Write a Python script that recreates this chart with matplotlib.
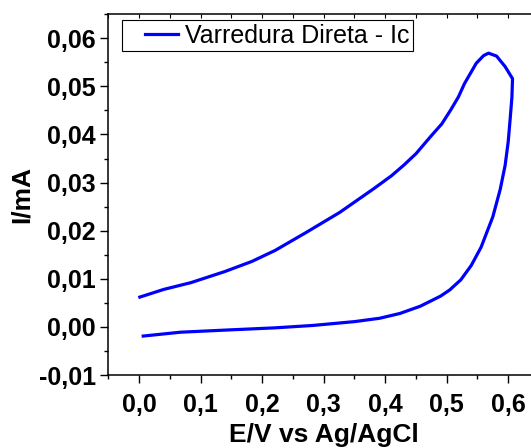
import matplotlib
matplotlib.use("Agg")
import matplotlib.pyplot as plt
from matplotlib.ticker import MultipleLocator, FuncFormatter
from matplotlib.legend_handler import HandlerLine2D

# voltammogram (E in V, I in mA), one continuous sweep
E = [0.001, 0.040, 0.084, 0.139, 0.183, 0.221, 0.271, 0.326, 0.381, 0.410,
     0.430, 0.450, 0.474, 0.492, 0.507, 0.519, 0.529, 0.548, 0.560, 0.568,
     0.581, 0.595, 0.607, 0.606, 0.603, 0.600, 0.595, 0.587, 0.575, 0.556,
     0.540, 0.523, 0.505, 0.490, 0.457, 0.424, 0.391, 0.350, 0.282, 0.220,
     0.150, 0.067, 0.0065]
I = [0.0062, 0.0078, 0.0092, 0.0115, 0.0136, 0.0159, 0.0196, 0.0238, 0.0287,
     0.0314, 0.0336, 0.0360, 0.0396, 0.0422, 0.0452, 0.0478, 0.0506, 0.0548,
     0.0564, 0.0569, 0.0563, 0.0541, 0.0516, 0.0477, 0.0430, 0.0385, 0.0336,
     0.0286, 0.0229, 0.0166, 0.0128, 0.0098, 0.0077, 0.0064, 0.0043, 0.0028,
     0.0018, 0.0011, 0.0003, -0.0002, -0.0006, -0.0011, -0.0019]

legend_label = "Varredura Direta - Ic"

plt.rcParams["font.family"] = ["Liberation Sans", "DejaVu Sans"]

fig = plt.figure(figsize=(5.31, 4.48), dpi=100)
ax = fig.add_axes([0.2043, 0.1629, 0.8107, 0.8054])

ax.plot(E, I, color="#0000ff", lw=2.3, solid_joinstyle="round", label=legend_label)

ax.set_xlim(-0.05, 0.65)
ax.set_ylim(-0.01, 0.065)

ax.xaxis.set_major_locator(MultipleLocator(0.1))
ax.xaxis.set_minor_locator(MultipleLocator(0.05))
ax.yaxis.set_major_locator(MultipleLocator(0.01))
ax.yaxis.set_minor_locator(MultipleLocator(0.005))
ax.xaxis.set_major_formatter(FuncFormatter(lambda v, p: f"{v:.1f}".replace(".", ",").replace("-0,0", "0,0")))
ax.yaxis.set_major_formatter(FuncFormatter(lambda v, p: f"{v:.2f}".replace(".", ",").replace("-0,00", "0,00")))

ax.tick_params(which="major", direction="out", length=6, width=1, labelsize=18, pad=3)
ax.tick_params(which="minor", direction="out", length=3, width=1)
ax.tick_params(axis="x", which="major", pad=7)
for lab in ax.get_xticklabels() + ax.get_yticklabels():
    lab.set_fontweight("bold")
# ticks on the top frame point inwards
sec = ax.secondary_xaxis("top")
sec.xaxis.set_major_locator(MultipleLocator(0.05))
sec.tick_params(direction="in", length=3, width=0.8, labeltop=False)
sec.spines["top"].set_visible(False)

for s in ax.spines.values():
    s.set_linewidth(1.1)

ax.set_xlabel("E/V vs Ag/AgCl", fontsize=19, fontweight="bold", labelpad=4)
ax.set_ylabel("I/mA", fontsize=19, fontweight="bold", labelpad=4)

leg = ax.legend(loc="upper left", bbox_to_anchor=(0.031, 0.984), fontsize=18,
                frameon=True, fancybox=False, edgecolor="black", framealpha=1,
                handlelength=2.09, handletextpad=0.28, borderpad=0.15,
                borderaxespad=0,
                handler_map={plt.Line2D: HandlerLine2D(xpad=0.77)})
leg.get_frame().set_linewidth(0.8)

fig.savefig("out.png", dpi=100)
